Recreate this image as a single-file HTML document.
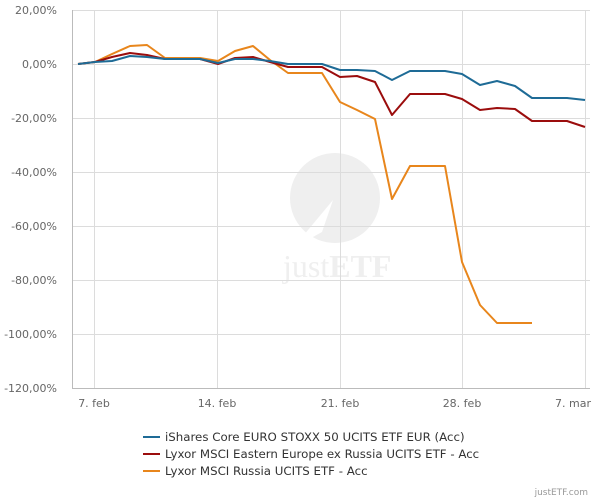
<!DOCTYPE html>
<html><head><meta charset="utf-8"><style>body{margin:0;background:#fff}svg{display:block}</style></head><body>
<svg width="600" height="500" xmlns="http://www.w3.org/2000/svg" font-family="DejaVu Sans, sans-serif">
<rect width="600" height="500" fill="#fff"/>
<circle cx="335" cy="198" r="45" fill="#efefef"/>
<polygon points="293,248 333,200 322,232" fill="#fff"/>
<text x="283" y="277" font-family="Liberation Serif, serif" font-size="32" fill="#efefef">just<tspan font-weight="bold">ETF</tspan></text>
<g stroke="#dcdcdc" stroke-width="1">
<line x1="72" y1="10.5" x2="590" y2="10.5"/><line x1="72" y1="64.5" x2="590" y2="64.5"/><line x1="72" y1="118.5" x2="590" y2="118.5"/><line x1="72" y1="172.5" x2="590" y2="172.5"/><line x1="72" y1="226.5" x2="590" y2="226.5"/><line x1="72" y1="280.5" x2="590" y2="280.5"/><line x1="72" y1="334.5" x2="590" y2="334.5"/>
<line x1="94.5" y1="10" x2="94.5" y2="388"/><line x1="217.5" y1="10" x2="217.5" y2="388"/><line x1="340.5" y1="10" x2="340.5" y2="388"/><line x1="462.5" y1="10" x2="462.5" y2="388"/><line x1="585.5" y1="10" x2="585.5" y2="388"/>
</g>
<line x1="72.5" y1="10" x2="72.5" y2="388" stroke="#bbb"/>
<line x1="72" y1="388.5" x2="590" y2="388.5" stroke="#bbb"/>
<g font-size="11" fill="#666" text-anchor="end">
<text x="57" y="14">20,00%</text><text x="57" y="68">0,00%</text><text x="57" y="122">-20,00%</text><text x="57" y="176">-40,00%</text><text x="57" y="230">-60,00%</text><text x="57" y="284">-80,00%</text><text x="57" y="338">-100,00%</text><text x="57" y="392">-120,00%</text>
</g>
<g font-size="11" fill="#666" text-anchor="middle">
<text x="94" y="407">7. feb</text><text x="217" y="407">14. feb</text><text x="340" y="407">21. feb</text><text x="462" y="407">28. feb</text><text x="573" y="407">7. mar</text>
</g>
<g fill="none" stroke-width="2" stroke-linejoin="round">
<polyline stroke="#e8861c" points="78,64 95,62 112,54 130,46 147,45 165,58 183,58 200,58 218,61 235,51 253,46 270,60 288,73 305,73 322,73 340,102 357,110 375,119 392,199 410,166 427,166 445,166 462,262 480,305 497,323 515,323 532,323"/>
<polyline stroke="#9b0d0d" points="78,64 95,62 112,57 130,53 147,55 165,59 183,59 200,59 218,64 235,58 253,57 270,62 288,67 305,67 322,67 340,77 357,76 375,82 392,115 410,94 427,94 445,94 462,99 480,110 497,108 515,109 532,121 550,121 567,121 585,127"/>
<polyline stroke="#1e6b96" points="78,64 95,62 112,61 130,56 147,57 165,59 183,59 200,59 218,63 235,59 253,59 270,61 288,64 305,64 322,64 340,70 357,70 375,71 392,80 410,71 427,71 445,71 462,74 480,85 497,81 515,86 532,98 550,98 567,98 585,100"/>
</g>
<g stroke-width="2"><line x1="143" y1="437" x2="160" y2="437" stroke="#1e6b96"/><line x1="143" y1="454" x2="160" y2="454" stroke="#9b0d0d"/><line x1="143" y1="471" x2="160" y2="471" stroke="#e8861c"/></g>
<g font-size="11.8" fill="#333"><text x="165" y="441">iShares Core EURO STOXX 50 UCITS ETF EUR (Acc)</text><text x="165" y="458">Lyxor MSCI Eastern Europe ex Russia UCITS ETF - Acc</text><text x="165" y="475">Lyxor MSCI Russia UCITS ETF - Acc</text></g>
<text x="588" y="495" font-size="9" fill="#999" text-anchor="end">justETF.com</text>
</svg>
</body></html>
